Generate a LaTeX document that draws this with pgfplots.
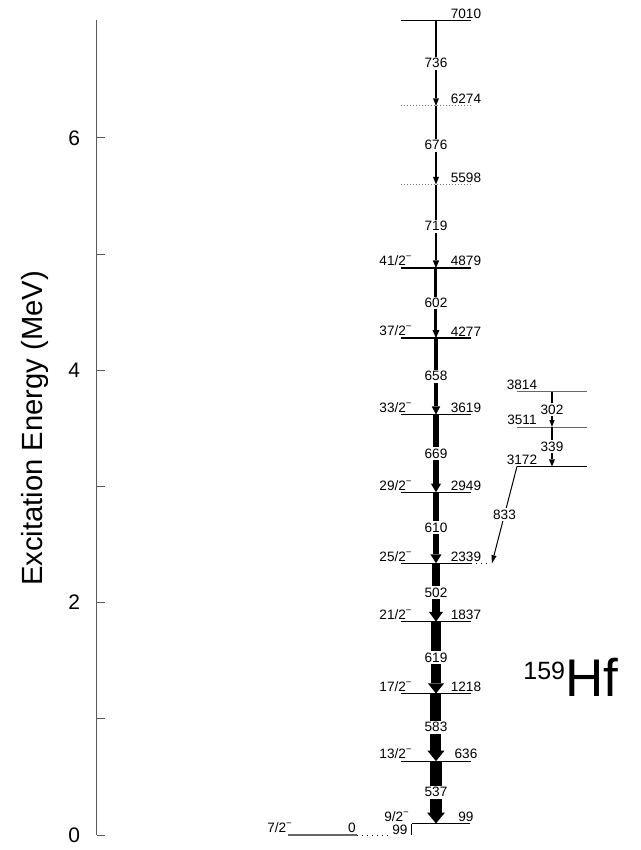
\documentclass[border=0pt]{standalone}
\usepackage{pgfplots}
\pgfplotsset{compat=1.18}
\usepackage{fontspec}
\setmainfont{Liberation Sans}
\usetikzlibrary{arrows.meta}

\newcommand\lab{\fontsize{6.8}{8}\selectfont}
\tikzset{
  lev/.style={black, line width=0.6pt},
  tent/.style={black!55, line width=0.5pt, densely dotted},
  tr/.style n args={3}{black, line width=#1, -{Triangle[width=#2,length=#3,line width=0pt]}},
  glab/.style={pos=0.5, fill=white, inner sep=0.8pt, font=\lab, text=black},
  elab/.style={anchor=south, inner sep=0.8pt, font=\lab},
}

\begin{document}
\begin{tikzpicture}
\begin{axis}[
  scale only axis, width=272pt, height=407.3pt,
  xmin=0, xmax=544, ymin=0, ymax=7.01,
  axis x line=none, axis y line*=left,
  xtick=\empty, ytick={0,2,4,6}, minor ytick={1,3,5},
  tick align=inside, major tick length=4pt, minor tick length=4pt,
  y axis line style={black!65, line width=0.5pt},
  ytick style={black!65, line width=0.5pt},
  yticklabel style={font=\fontsize{10.5}{12}\selectfont, xshift=-5pt},
  /pgf/number format/assume math mode=true,
  ylabel={Excitation Energy (MeV)},
  every axis y label/.style={at={(axis cs:-62,3.5)}, rotate=90, anchor=center, font=\fontsize{14.6}{18}\selectfont},
  clip=false, no marks,
]
% picture frame
\addplot[draw=none] coordinates {(-97,-0.129) (544,7.186)};

% ground state and 99 keV level
\addplot[black!60, line width=1pt] coordinates {(191,0) (260,0)};
\addplot[black, line width=0.5pt, dotted] coordinates {(260,0) (293,0)};
\addplot[lev] coordinates {(315,0.099) (373,0.099)};

% main band levels
\addplot[lev] coordinates {(304,0.636) (374,0.636)};
\addplot[lev] coordinates {(304,1.218) (374,1.218)};
\addplot[lev] coordinates {(304,1.837) (374,1.837)};
\addplot[lev] coordinates {(304,2.339) (374,2.339)};
\addplot[lev] coordinates {(304,2.949) (374,2.949)};
\addplot[lev] coordinates {(304,3.619) (374,3.619)};
\addplot[lev] coordinates {(304,4.277) (374,4.277)};
\addplot[lev] coordinates {(304,4.879) (374,4.879)};
\addplot[tent] coordinates {(304,5.598) (374,5.598)};
\addplot[tent] coordinates {(304,6.274) (374,6.274)};
\addplot[lev] coordinates {(304,7.010) (374,7.010)};
\addplot[black, line width=0.5pt, dotted] coordinates {(374,2.339) (394,2.339)};

% side band levels
\addplot[lev, line width=0.8pt] coordinates {(420,3.172) (490,3.172)};
\addplot[black!60, line width=0.5pt] coordinates {(420,3.511) (490,3.511)};
\addplot[black!60, line width=0.5pt] coordinates {(420,3.814) (490,3.814)};

% transitions
\addplot[tr={1pt}{3pt}{3.8pt}] coordinates {(339,7.010) (339,6.274)} node[glab] {736};
\addplot[tr={1pt}{3pt}{3.8pt}] coordinates {(339,6.274) (339,5.598)} node[glab] {676};
\addplot[tr={1.2pt}{3.2pt}{3.8pt}] coordinates {(339,5.598) (339,4.879)} node[glab] {719};
\addplot[tr={1.5pt}{3.5pt}{4pt}] coordinates {(339,4.879) (339,4.277)} node[glab] {602};
\addplot[tr={2pt}{4.2pt}{4pt}] coordinates {(339,4.277) (339,3.619)} node[glab] {658};
\addplot[tr={2.7pt}{5pt}{4.3pt}] coordinates {(339,3.619) (339,2.949)} node[glab] {669};
\addplot[tr={3pt}{5.5pt}{4.4pt}] coordinates {(339,2.949) (339,2.339)} node[glab] {610};
\addplot[tr={4.2pt}{7pt}{4.8pt}] coordinates {(339,2.339) (339,1.837)} node[glab] {502};
\addplot[tr={5pt}{8pt}{5pt}] coordinates {(339,1.837) (339,1.218)} node[glab] {619};
\addplot[tr={5.5pt}{8.5pt}{5.2pt}] coordinates {(339,1.218) (339,0.636)} node[glab] {583};
\addplot[tr={5.8pt}{9pt}{5.5pt}] coordinates {(339,0.636) (339,0.099)} node[glab] {537};
\addplot[black, line width=0.4pt] coordinates {(314,0.099) (314,0)};

\addplot[tr={0.8pt}{2.6pt}{3.5pt}] coordinates {(455,3.814) (455,3.511)} node[glab] {302};
\addplot[tr={1.3pt}{3pt}{3.5pt}] coordinates {(455,3.511) (455,3.172)} node[glab] {339};
\addplot[tr={0.5pt}{2.6pt}{4pt}] coordinates {(420,3.172) (395,2.339)} node[glab] {833};

% spin labels
\node[elab] at (axis cs:183,0) {7/2\textsuperscript{−}};
\node[elab] at (axis cs:300,0.099) {9/2\textsuperscript{−}};
\node[elab] at (axis cs:299,0.636) {13/2\textsuperscript{−}};
\node[elab] at (axis cs:299,1.218) {17/2\textsuperscript{−}};
\node[elab] at (axis cs:299,1.837) {21/2\textsuperscript{−}};
\node[elab] at (axis cs:299,2.339) {25/2\textsuperscript{−}};
\node[elab] at (axis cs:299,2.949) {29/2\textsuperscript{−}};
\node[elab] at (axis cs:299,3.619) {33/2\textsuperscript{−}};
\node[elab] at (axis cs:299,4.277) {37/2\textsuperscript{−}};
\node[elab] at (axis cs:299,4.879) {41/2\textsuperscript{−}};

% level energies
\node[elab] at (axis cs:255,0) {0};
\node[font=\lab, inner sep=0] at (axis cs:303,0.045) {99};
\node[elab] at (axis cs:369,0.099) {99};
\node[elab] at (axis cs:369,0.636) {636};
\node[elab] at (axis cs:369,1.218) {1218};
\node[elab] at (axis cs:369,1.837) {1837};
\node[elab] at (axis cs:369,2.339) {2339};
\node[elab] at (axis cs:369,2.949) {2949};
\node[elab] at (axis cs:369,3.619) {3619};
\node[elab] at (axis cs:369,4.277) {4277};
\node[elab] at (axis cs:369,4.879) {4879};
\node[elab] at (axis cs:369,5.598) {5598};
\node[elab] at (axis cs:369,6.274) {6274};
\node[elab] at (axis cs:369,7.010) {7010};
\node[elab] at (axis cs:425,3.172) {3172};
\node[elab] at (axis cs:425,3.511) {3511};
\node[elab] at (axis cs:425,3.814) {3814};

% nucleus
\node[anchor=base west, inner sep=0] at (axis cs:426,1.19)
  {\fontsize{26.5}{30}\selectfont\raisebox{8.5pt}{\fontsize{12.5}{15}\selectfont 159}Hf};
\end{axis}
\end{tikzpicture}
\end{document}
